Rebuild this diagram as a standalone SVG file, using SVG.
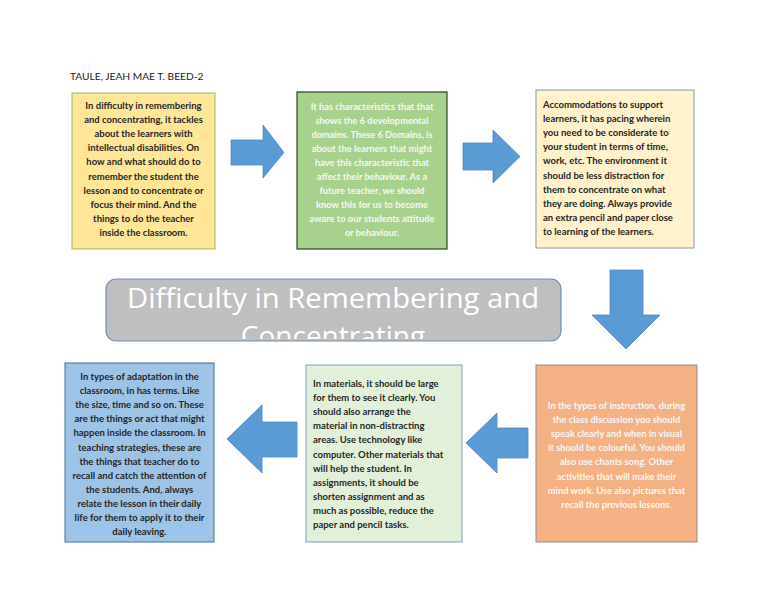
<svg xmlns="http://www.w3.org/2000/svg" width="768" height="594" viewBox="0 0 768 594">
<style>
.t{font-family:Lato,"Liberation Sans",sans-serif;font-size:9.5px;font-weight:bold;fill:#262626}
.w{fill:#f7f7f7;font-size:9.3px}
.c{text-anchor:middle}
.arrow{fill:#5b9bd5;stroke:#4f87bd;stroke-width:0.8}
.ttl{font-family:"Open Sans","Noto Sans",sans-serif;font-size:28px;fill:#ffffff}
</style>
<defs>
<clipPath id="tc"><rect x="106" y="279" width="455" height="60"/></clipPath>
</defs>
<rect width="768" height="594" fill="#ffffff"/>
<text x="70" y="80" class="t" style="font-weight:normal;font-size:10.2px;fill:#1a1a1a">TAULE, JEAH MAE T. BEED-2</text>

<g id="connectors">
<path class="arrow" d="M231,140 H263 V125 L284,152.5 L263,178 V165 H231 Z"/>
<path class="arrow" d="M463,143 H493 V130 L520,156.5 L493,183 V170 H463 Z"/>
<path class="arrow" d="M610,270 H643 V315 H660 L626,349 L592,315 H610 Z"/>
<path class="arrow" d="M528,428 H497 V413 L466,443 L497,473 V458 H528 Z"/>
<path class="arrow" d="M297,422 H262 V405 L227,439 L262,473 V457 H297 Z"/>
</g>

<g id="node1">
<rect x="72" y="93" width="143" height="156" fill="#ffe699" stroke="#9bb56a" stroke-width="1"/>
<text class="t c" x="143.5" y="109"><tspan x="143.5">In difficulty in remembering</tspan><tspan x="143.5" dy="14.1">and concentrating, it tackles</tspan><tspan x="143.5" dy="14.1">about the learners with</tspan><tspan x="143.5" dy="14.1">intellectual disabilities. On</tspan><tspan x="143.5" dy="14.1">how and what should do to</tspan><tspan x="143.5" dy="14.1">remember the student the</tspan><tspan x="143.5" dy="14.1">lesson and to concentrate or</tspan><tspan x="143.5" dy="14.1">focus their mind. And the</tspan><tspan x="143.5" dy="14.1">things to do the teacher</tspan><tspan x="143.5" dy="14.1">inside the classroom.</tspan></text>
</g>

<g id="node2">
<rect x="297" y="92" width="150" height="157" fill="#a9d18e" stroke="#2f3f2a" stroke-width="1.2"/>
<text class="t c w" x="372" y="109.5"><tspan x="372">It has characteristics that that</tspan><tspan x="372" dy="14.1">shows the 6 developmental</tspan><tspan x="372" dy="14.1">domains. These 6 Domains, is</tspan><tspan x="372" dy="14.1">about the learners that might</tspan><tspan x="372" dy="14.1">have this characteristic that</tspan><tspan x="372" dy="14.1">affect their behaviour. As a</tspan><tspan x="372" dy="14.1">future teacher, we should</tspan><tspan x="372" dy="14.1">know this for us to become</tspan><tspan x="372" dy="14.1">aware to our students attitude</tspan><tspan x="372" dy="14.1">or behaviour.</tspan></text>
</g>

<g id="node3">
<rect x="536" y="90" width="158" height="158" fill="#fff2cc" stroke="#8497b0" stroke-width="1"/>
<text class="t" x="543" y="108"><tspan x="543">Accommodations to support</tspan><tspan x="543" dy="14.1">learners, it has pacing wherein</tspan><tspan x="543" dy="14.1">you need to be considerate to</tspan><tspan x="543" dy="14.1">your student in terms of time,</tspan><tspan x="543" dy="14.1">work, etc. The environment it</tspan><tspan x="543" dy="14.1">should be less distraction for</tspan><tspan x="543" dy="14.1">them to concentrate on what</tspan><tspan x="543" dy="14.1">they are doing. Always provide</tspan><tspan x="543" dy="14.1">an extra pencil and paper close</tspan><tspan x="543" dy="14.1">to learning of the learners.</tspan></text>
</g>

<g id="title">
<rect x="106" y="279" width="455" height="62" rx="10" ry="10" fill="#bfbfbf" stroke="#6f8fb5" stroke-width="1.2"/>
<g clip-path="url(#tc)">
<text class="ttl" x="127" y="308" textLength="412" lengthAdjust="spacingAndGlyphs">Difficulty in Remembering and</text>
<text class="ttl" x="333" y="346" text-anchor="middle">Concentrating</text>
</g>
</g>

<g id="node4">
<rect x="65" y="363" width="149" height="179" fill="#9dc3e6" stroke="#41719c" stroke-width="1"/>
<text class="t c" x="139.5" y="380"><tspan x="139.5">In types of adaptation in the</tspan><tspan x="139.5" dy="14.1">classroom, in has terms. Like</tspan><tspan x="139.5" dy="14.1">the size, time and so on. These</tspan><tspan x="139.5" dy="14.1">are the things or act that might</tspan><tspan x="139.5" dy="14.1">happen inside the classroom. In</tspan><tspan x="139.5" dy="14.1">teaching strategies, these are</tspan><tspan x="139.5" dy="14.1">the things that teacher do to</tspan><tspan x="139.5" dy="14.1">recall and catch the attention of</tspan><tspan x="139.5" dy="14.1">the students. And, always</tspan><tspan x="139.5" dy="14.1">relate the lesson in their daily</tspan><tspan x="139.5" dy="14.1">life for them to apply it to their</tspan><tspan x="139.5" dy="14.1">daily leaving.</tspan></text>
</g>

<g id="node5">
<rect x="306" y="365" width="156" height="177" fill="#e2f0d9" stroke="#7f9fc4" stroke-width="1"/>
<text class="t" x="313" y="387"><tspan x="313">In materials, it should be large</tspan><tspan x="313" dy="14.1">for them to see it clearly. You</tspan><tspan x="313" dy="14.1">should also arrange the</tspan><tspan x="313" dy="14.1">material in non-distracting</tspan><tspan x="313" dy="14.1">areas. Use technology like</tspan><tspan x="313" dy="14.1">computer. Other materials that</tspan><tspan x="313" dy="14.1">will help the student. In</tspan><tspan x="313" dy="14.1">assignments, it should be</tspan><tspan x="313" dy="14.1">shorten assignment and as</tspan><tspan x="313" dy="14.1">much as possible, reduce the</tspan><tspan x="313" dy="14.1">paper and pencil tasks.</tspan></text>
</g>

<g id="node6">
<rect x="536" y="365" width="161" height="177" fill="#f4b183" stroke="#8c8c8c" stroke-width="1"/>
<text class="t c w" x="616.5" y="409"><tspan x="616.5">In the types of instruction, during</tspan><tspan x="616.5" dy="14.1">the class discussion you should</tspan><tspan x="616.5" dy="14.1">speak clearly and when in visual</tspan><tspan x="616.5" dy="14.1">it should be colourful. You should</tspan><tspan x="616.5" dy="14.1">also use chants song. Other</tspan><tspan x="616.5" dy="14.1">activities that will make their</tspan><tspan x="616.5" dy="14.1">mind work. Use also pictures that</tspan><tspan x="616.5" dy="14.1">recall the previous lessons.</tspan></text>
</g>
</svg>
